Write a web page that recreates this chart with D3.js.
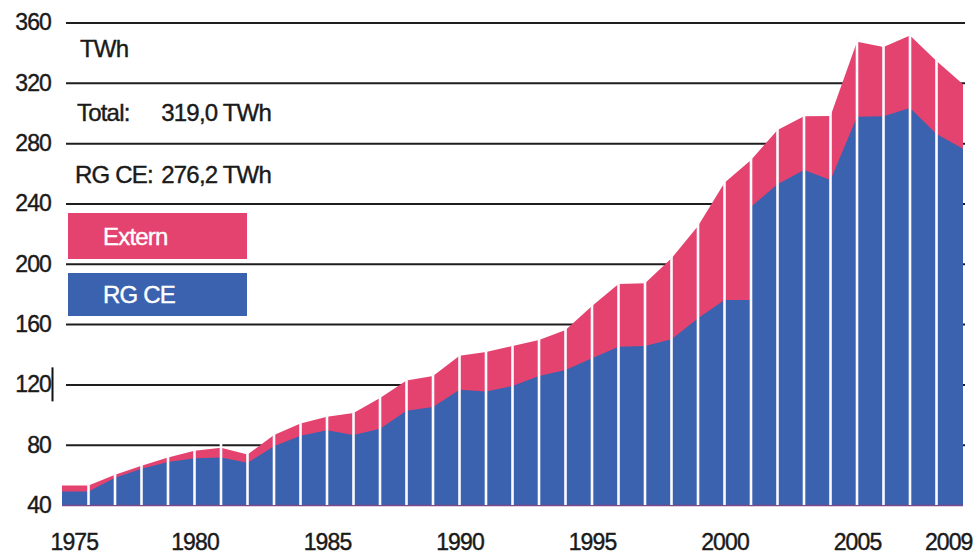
<!DOCTYPE html>
<html>
<head>
<meta charset="utf-8">
<script src="https://cdn.jsdelivr.net/npm/d3@7"></script>
<style>
  body { margin: 0; background: #fff; }
  svg { display: block; }
  text { font-family: "Liberation Sans", Arial, Helvetica, sans-serif; }
</style>
</head>
<body>
<svg id="chart" width="973" height="555"></svg>
<script>
// Yearly physical exchanges (TWh)
const years = [1975, 1976, 1977, 1978, 1979, 1980, 1981, 1982, 1983, 1984,
               1985, 1986, 1987, 1988, 1989, 1990, 1991, 1992, 1993, 1994,
               1995, 1996, 1997, 1998, 1999, 2000, 2001, 2002, 2003, 2004,
               2005, 2006, 2007, 2008, 2009];
const totalTWh = [53, 53, 60, 66, 71.5, 76, 78, 73.5, 86.5, 94,
                  98.5, 101, 111, 122.5, 125.5, 139, 141.5, 145.5, 149.5, 156,
                  172, 186.6, 187, 203.6, 225, 253.7, 268.8, 288.7, 297.8, 298,
                  347.2, 343.7, 351.4, 334.5, 319.0];
const rgceTWh = [49, 49, 58, 64, 68.5, 71, 71.5, 68, 79, 86,
                 89.5, 86.5, 90.5, 102.5, 105, 116.5, 115.2, 119, 125.5, 129.5,
                 137.3, 145, 145.5, 150, 163.8, 176, 237.8, 252.7, 262.2, 255.5,
                 297.5, 297.8, 303.3, 286, 276.2];
// Perimeter change in 2001: RG CE steps up from this value within the year
const rgceBreakYear = 2001;
const rgceBeforeBreak = 176;

const yTicks = [40, 80, 120, 160, 200, 240, 280, 320, 360];
const xTickYears = [1975, 1980, 1985, 1990, 1995, 2000, 2005, 2009];
const legendNames = ["Extern", "RG CE"];
const unitLabel = "TWh";

const colExtern = "#e4436f";
const colRgce = "#3a62ae";
const ink = "#1a1a1a";

const svg = d3.select("#chart");

const x = d3.scaleLinear().domain([1975, 2009]).range([62, 963]);
const y = d3.scaleLinear().domain([40, 360]).range([505, 22.5]);

// series points, with a doubled point where RG CE jumps
const pts = [];
years.forEach((yr, i) => {
  if (yr === rgceBreakYear) pts.push({ year: yr, total: totalTWh[i], rgce: rgceBeforeBreak });
  pts.push({ year: yr, total: totalTWh[i], rgce: rgceTWh[i] });
});

// gridlines + value labels
const yAxis = d3.axisLeft(y)
  .tickValues(yTicks)
  .tickSizeInner(-(965 - 66))
  .tickSizeOuter(0)
  .tickPadding(15)
  .tickFormat(d3.format("d"));

const gy = svg.append("g").attr("transform", "translate(66,0)").call(yAxis);
gy.select(".domain").remove();
gy.selectAll(".tick line")
  .attr("stroke", "#1e1e1e")
  .attr("stroke-width", 2)
  .attr("opacity", d => d === 40 ? 0 : 1);
gy.selectAll(".tick text")
  .attr("fill", ink)
  .attr("font-size", 23)
  .attr("letter-spacing", -0.9)
  .attr("stroke", ink)
  .attr("stroke-width", 0.4);

// small mark beside the 120 label
svg.append("line")
  .attr("x1", 52.5).attr("x2", 52.5)
  .attr("y1", y(120) - 17).attr("y2", y(120) + 17)
  .attr("stroke", "#111").attr("stroke-width", 2);

// areas
const areaTotal = d3.area()
  .x(d => x(d.year))
  .y0(y(40))
  .y1(d => y(d.total));
const areaRgce = d3.area()
  .x(d => x(d.year))
  .y0(y(40))
  .y1(d => y(d.rgce));

svg.append("path").datum(pts).attr("d", areaTotal).attr("fill", colExtern);
svg.append("path").datum(pts).attr("d", areaRgce).attr("fill", colRgce);

// thin baseline under the areas
svg.append("line")
  .attr("x1", x(1975)).attr("x2", x(2009))
  .attr("y1", y(40) + 0.5).attr("y2", y(40) + 0.5)
  .attr("stroke", "#7d4a8c").attr("stroke-width", 1.5);

// white year separators
svg.append("g")
  .selectAll("line")
  .data(years.slice(1, -1).map((yr, i) => ({ year: yr, total: totalTWh[i + 1] })))
  .join("line")
  .attr("x1", d => x(d.year)).attr("x2", d => x(d.year))
  .attr("y1", y(40))
  .attr("y2", d => y(d.total) - 4)
  .attr("stroke", "#fbfbff")
  .attr("stroke-width", 2.6);

// year labels
const xAxis = d3.axisBottom(x)
  .tickValues(xTickYears)
  .tickSize(0)
  .tickPadding(29)
  .tickFormat(d3.format("d"));
const gx = svg.append("g").attr("transform", `translate(0,${y(40)})`).call(xAxis);
gx.select(".domain").remove();
gx.selectAll(".tick text")
  .attr("fill", ink)
  .attr("font-size", 23)
  .attr("letter-spacing", -0.9)
  .attr("stroke", ink)
  .attr("stroke-width", 0.4)
  .attr("text-anchor", d => d === xTickYears[0] ? "start" : d === xTickYears[xTickYears.length - 1] ? "end" : "middle")
  .attr("x", d => d === xTickYears[0] ? -12 : d === xTickYears[xTickYears.length - 1] ? 972 - x(d) : 0);

// annotation block
const fmt = v => d3.format(".1f")(v).replace(".", ",");
const lastTotal = totalTWh[totalTWh.length - 1];
const lastRgce = rgceTWh[rgceTWh.length - 1];
const ann = svg.append("g")
  .attr("fill", ink)
  .attr("font-size", 24)
  .attr("letter-spacing", -0.8)
  .attr("stroke", ink)
  .attr("stroke-width", 0.4);
ann.append("text").attr("x", 80).attr("y", 57).text(unitLabel);
ann.append("text").attr("x", 77).attr("y", 121).text("Total:");
ann.append("text").attr("x", 271).attr("y", 121).attr("text-anchor", "end").text(`${fmt(lastTotal)} ${unitLabel}`);
ann.append("text").attr("x", 75).attr("y", 183).text("RG CE:");
ann.append("text").attr("x", 271).attr("y", 183).attr("text-anchor", "end").text(`${fmt(lastRgce)} ${unitLabel}`);

// legend
const legend = [
  { name: legendNames[0], color: colExtern, y: 213, h: 46 },
  { name: legendNames[1], color: colRgce, y: 273, h: 43 }
];
const lg = svg.append("g").selectAll("g").data(legend).join("g");
lg.append("rect")
  .attr("x", 68).attr("y", d => d.y)
  .attr("width", 179).attr("height", d => d.h)
  .attr("fill", d => d.color);
lg.append("text")
  .attr("x", 103).attr("y", d => d.y + d.h / 2)
  .attr("dominant-baseline", "central")
  .attr("fill", "#fff")
  .attr("stroke", "#fff")
  .attr("stroke-width", 0.4)
  .attr("font-size", 24)
  .attr("letter-spacing", -0.8)
  .text(d => d.name);
</script>
</body>
</html>
